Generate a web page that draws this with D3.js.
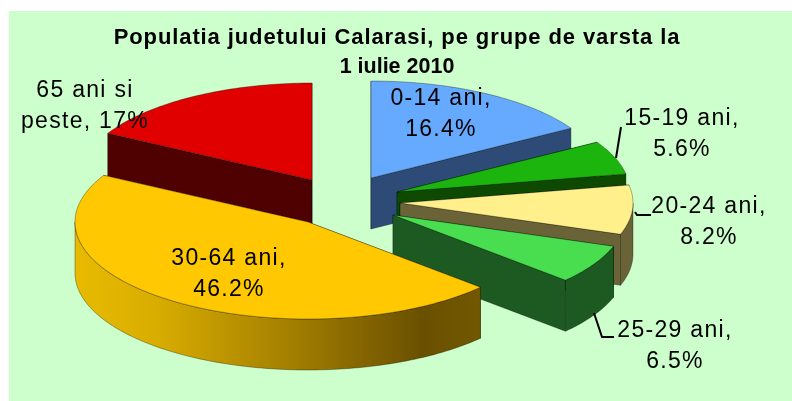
<!DOCTYPE html>
<html><head><meta charset="utf-8">
<script src="https://cdn.jsdelivr.net/npm/d3@7"></script>
<style>html,body{margin:0;padding:0;background:#fff}svg{display:block}</style>
</head><body><div id="c"></div>
<script>
const categories = ["0-14 ani","15-19 ani","20-24 ani","25-29 ani","30-64 ani","65 ani si peste"];
const values = [16.4,5.6,8.2,6.5,46.2,17];
const titleLines = ["Populatia judetului Calarasi, pe grupe de varsta la","1 iulie 2010"];
const topColors = ["#66aaff","#1fb50f","#fff08c","#4ade50","#ffc800","#e00505"];
const sideColors = ["#2d4c78","#0a4a00","#6b6438","#1f5a24","#a58000","#500000"];
const labelLines = [["0-14 ani,","16.4%"],["15-19 ani,","5.6%"],["20-24 ani,","8.2%"],["25-29 ani,","6.5%"],["30-64 ani,","46.2%"],["65 ani si","peste, 17%"]];

// layout, separate from the data
const W=792,H=401,RX=233,RY=97,DEPTH=51;
const apexes=[[371,178],[397,192],[400,203],[393,215],[308,222],[312,180]];
const labelPos=[[441,105],[682,125],[709,213],[675,337],[229,265],[85,97]];
const labelGap=31, labelSize=23, labelSpacing=1.3;
const titleStyle=[{size:22,spacing:0.9},{size:21.5,spacing:0}];
const leaders=[null,[[621,127],[616,158]],[[635,212],[637,215],[651,215]],[[594,313],[602,337],[614,337]],null,null];
const drawOrder=[5,0,1,2,3,4];

const svg=d3.select("#c").append("svg").attr("width",W).attr("height",H);
svg.append("rect").attr("width",W).attr("height",H).attr("fill","#fff");
const defs=svg.append("defs");
defs.append("filter").attr("id","soft").attr("x",0).attr("y",0).attr("width",1).attr("height",1)
  .append("feGaussianBlur").attr("stdDeviation",0.45);
const grad=defs.append("linearGradient").attr("id","wall").attr("gradientUnits","userSpaceOnUse")
  .attr("x1",73).attr("x2",483).attr("y1",0).attr("y2",0);
[[0,"#e8bb00"],[0.2,"#d9ad00"],[0.55,"#a07c00"],[0.85,"#6a5000"],[1,"#735700"]].forEach(s=>
  grad.append("stop").attr("offset",s[0]).attr("stop-color",s[1]));

svg.append("rect").attr("x",9).attr("y",11).attr("width",W-9).attr("height",H-11).attr("fill","#ccffcc");
const root=svg.append("g").attr("filter","url(#soft)");
root.append("rect").attr("width",W).attr("height",H).attr("fill","none");

const pie=d3.pie().sort(null).value(d=>d)(values);
const sx=d3.scaleLinear().domain([-1,1]).range([-RX,RX]);
const sy=d3.scaleLinear().domain([-1,1]).range([-RY,RY]);
const line=d3.line();
const on=(i,a,dz=0)=>[apexes[i][0]+sx(Math.sin(a)),apexes[i][1]+sy(-Math.cos(a))+dz];
const arcPts=(i,a0,a1,dz=0)=>{
  const n=Math.max(2,Math.ceil((a1-a0)/0.02));
  return d3.range(n+1).map(k=>on(i,a0+(a1-a0)*k/n,dz));
};
const edge={stroke:"#000","stroke-opacity":0.4,"stroke-width":0.8,"stroke-linejoin":"round"};
const styled=(sel)=>{Object.entries(edge).forEach(([k,v])=>sel.attr(k,v));return sel;};

drawOrder.forEach(i=>{
  const {startAngle:a0,endAngle:a1}=pie[i];
  const ap=apexes[i];
  const g=root.append("g");
  [a0,a1].forEach(a=>{
    const p=on(i,a);
    styled(g.append("path")).attr("fill",sideColors[i])
      .attr("d",line([ap,p,[p[0],p[1]+DEPTH],[ap[0],ap[1]+DEPTH]])+"Z");
  });
  const w0=Math.max(a0,Math.PI/2), w1=Math.min(a1,3*Math.PI/2);
  if(w1>w0){
    const pts=arcPts(i,w0,w1).concat(arcPts(i,w0,w1,DEPTH).reverse());
    styled(g.append("path")).attr("fill",i===4?"url(#wall)":sideColors[i]).attr("d",line(pts)+"Z");
  }
  styled(g.append("path")).attr("fill",topColors[i])
    .attr("d",line([ap].concat(arcPts(i,a0,a1)))+"Z");
});

leaders.forEach(l=>{ if(l) root.append("path").attr("d",line(l)).attr("fill","none").attr("stroke","#000").attr("stroke-width",2); });

const font="'Liberation Sans',Arial,sans-serif";
titleLines.forEach((t,k)=>root.append("text").text(t).attr("x",397).attr("y",44+k*29)
  .attr("text-anchor","middle").attr("font-family",font).attr("font-weight","bold")
  .attr("font-size",titleStyle[k].size).attr("letter-spacing",titleStyle[k].spacing).attr("fill","#000"));
labelLines.forEach((ls,i)=>ls.forEach((t,k)=>root.append("text").text(t)
  .attr("x",labelPos[i][0]).attr("y",labelPos[i][1]+k*labelGap)
  .attr("text-anchor","middle").attr("font-family",font).attr("font-size",labelSize)
  .attr("letter-spacing",labelSpacing).attr("fill","#000")));
</script></body></html>
